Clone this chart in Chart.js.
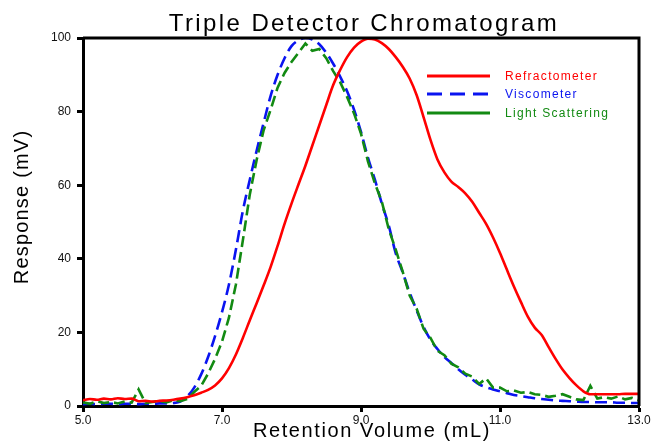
<!DOCTYPE html>
<html>
<head>
<meta charset="utf-8">
<script src="https://cdn.jsdelivr.net/npm/chart.js@4.4.0/dist/chart.umd.min.js"></script>
<style>
  html, body { margin: 0; padding: 0; background: #fff; }
  #wrap { width: 655px; height: 447px; }
</style>
</head>
<body>
<div id="wrap"><canvas id="myChart" width="655" height="447"></canvas></div>
<script>
// Retention volume (mL)
const volume = [
  5.0, 5.1, 5.2, 5.3, 5.4, 5.5, 5.6, 5.7, 5.8, 5.9,
  6.0, 6.1, 6.2, 6.3, 6.4, 6.5, 6.6, 6.7, 6.8, 6.9,
  7.0, 7.1, 7.2, 7.3, 7.4, 7.5, 7.6, 7.7, 7.8, 7.9,
  8.0, 8.1, 8.2, 8.3, 8.4, 8.5, 8.6, 8.7, 8.8, 8.9,
  9.0, 9.1, 9.2, 9.3, 9.4, 9.5, 9.6, 9.7, 9.8, 9.9,
  10.0, 10.1, 10.2, 10.3, 10.4, 10.5, 10.6, 10.7, 10.8, 10.9,
  11.0, 11.1, 11.2, 11.3, 11.4, 11.5, 11.6, 11.7, 11.8, 11.9,
  12.0, 12.1, 12.2, 12.3, 12.4, 12.5, 12.6, 12.7, 12.8, 12.9,
  13.0
];

// Response (mV) per detector
const refractometer = [
  1.6, 1.9, 1.7, 2.0, 1.8, 2.1, 1.9, 2.0, 1.3, 1.4,
  1.2, 1.4, 1.5, 1.7, 2.0, 2.4, 2.9, 3.6, 4.4, 5.6,
  7.5, 10.3, 14.0, 18.5, 23.3, 28.0, 32.8, 37.8, 43.5, 49.5,
  55.0, 60.2, 65.3, 70.8, 76.3, 81.8, 87.2, 91.3, 94.8, 97.4,
  99.0, 99.8, 99.6, 98.6, 97.0, 94.8, 92.2, 89.0, 84.5, 78.5,
  72.3, 67.0, 63.5, 61.0, 59.5, 57.8, 55.5, 52.5, 49.5, 45.8,
  41.6, 37.0, 32.5, 28.3, 24.3, 21.3, 19.3, 16.0, 12.8, 9.9,
  7.6, 5.6, 4.0, 3.2, 3.2, 3.2, 3.2, 3.2, 3.3, 3.3,
  3.3
];

const viscometer = [
  0.5, 0.6, 0.5, 0.6, 0.6, 0.5, 0.6, 0.6, 0.5, 0.6,
  0.6, 0.7, 0.7, 0.8, 1.2, 2.6, 5.0, 8.6, 13.3, 19.0,
  25.5, 33.0, 42.5, 53.0, 61.5, 69.5, 77.0, 84.3, 90.0, 94.5,
  97.8, 99.4, 100, 99.6, 98.3, 96.0, 93.0, 89.5, 85.5, 80.5,
  74.5, 67.5, 61.5, 55.0, 49.0, 41.5, 36.3, 30.8, 26.0, 21.5,
  18.0, 15.5, 13.3, 11.7, 10.0, 8.5, 7.2, 5.9, 5.1, 4.5,
  4.0, 3.5, 3.0, 2.7, 2.4, 2.1, 1.9, 1.7, 1.5, 1.4,
  1.3, 1.2, 1.1, 1.1, 1.0, 1.0, 1.0, 0.9, 0.9, 0.8,
  0.8
];

const lightScattering = [
  1.0, 0.6, 1.3, 0.8, 1.1, 0.7, 1.2, 0.9, 4.5, 0.8,
  1.1, 1.4, 1.0, 1.6, 1.3, 1.9, 3.8, 5.5, 8.8, 12.8,
  17.5, 24.0, 33.0, 45.0, 57.5, 67.0, 75.0, 80.5, 86.5, 90.5,
  93.5, 96.0, 98.5, 96.5, 97.0, 94.5, 91.0, 88.0, 84.0, 79.5,
  74.0, 66.5, 60.5, 55.5, 48.0, 42.5, 36.5, 30.0, 26.5, 21.0,
  18.5, 15.0, 13.8, 11.5, 10.5, 8.8, 8.0, 6.0, 7.5, 5.0,
  5.0, 4.0, 4.2, 3.6, 3.8, 3.2, 3.0, 2.5, 2.8, 3.2,
  2.5, 1.8, 1.6, 5.5, 2.0, 2.4, 2.0, 2.6, 1.8, 2.2,
  1.5
];

const xTicks = [5, 7, 9, 11, 13];
const chartTitle = "Triple Detector Chromatogram";
const xTitle = "Retention Volume (mL)";
const yTitle = "Response (mV)";

const FONT = '"Liberation Sans", Arial, sans-serif';

function pairs(ys) {
  return volume.map((v, i) => ({ x: v, y: ys[i] }));
}

// titles, frame and legend drawn by hand
const decor = {
  id: 'decor',
  afterDraw(chart) {
    const { ctx, chartArea } = chart;
    const { left, right, top, bottom } = chartArea;
    ctx.save();

    // top + right frame
    ctx.strokeStyle = '#000';
    ctx.lineWidth = 3;
    ctx.beginPath();
    ctx.moveTo(left, top);
    ctx.lineTo(right, top);
    ctx.lineTo(right, bottom);
    ctx.stroke();

    ctx.fillStyle = '#000';
    ctx.textAlign = 'center';
    ctx.textBaseline = 'alphabetic';

    ctx.font = '24px ' + FONT;
    ctx.letterSpacing = '2.4px';
    ctx.fillText(chartTitle, (left + right) / 2 + 3, 31);

    ctx.font = '20px ' + FONT;
    ctx.letterSpacing = '1.6px';
    ctx.fillText(xTitle, (left + right) / 2 + 11, 437);

    ctx.save();
    ctx.translate(28, 207);
    ctx.rotate(-Math.PI / 2);
    ctx.letterSpacing = '1.2px';
    ctx.fillText(yTitle, 0, 0);
    ctx.restore();

    // legend
    ctx.font = '12px ' + FONT;
    ctx.letterSpacing = '1.3px';
    ctx.textAlign = 'left';
    ctx.textBaseline = 'middle';
    const rows = [76, 94, 113];
    chart.data.datasets.forEach((ds, i) => {
      const y = rows[i];
      ctx.strokeStyle = ds.borderColor;
      ctx.lineWidth = 3;
      ctx.setLineDash(ds.legendDash || []);
      ctx.beginPath();
      ctx.moveTo(427, y);
      ctx.lineTo(490, y);
      ctx.stroke();
      ctx.setLineDash([]);
      ctx.fillStyle = ds.borderColor;
      ctx.fillText(ds.label, 505, y + 1);
    });

    ctx.restore();
  }
};

const ctx = document.getElementById('myChart').getContext('2d');
const myChart = new Chart(ctx, {
  type: 'line',
  data: {
    datasets: [
      {
        label: 'Refractometer',
        data: pairs(refractometer),
        borderColor: '#ff0000',
        borderWidth: 2.6,
        pointRadius: 0,
        cubicInterpolationMode: 'monotone',
        order: 0
      },
      {
        label: 'Viscometer',
        data: pairs(viscometer),
        borderColor: '#0a14f0',
        borderWidth: 2.6,
        borderDash: [12, 6],
        legendDash: [15, 8],
        pointRadius: 0,
        cubicInterpolationMode: 'monotone',
        order: 2
      },
      {
        label: 'Light Scattering',
        data: pairs(lightScattering),
        borderColor: '#128a12',
        borderWidth: 2.6,
        borderDash: [11, 5],
        pointRadius: 0,
        tension: 0,
        order: 1
      }
    ]
  },
  options: {
    responsive: false,
    animation: false,
    devicePixelRatio: 1,
    layout: { padding: { top: 38, right: 16, left: 0, bottom: 0 } },
    plugins: {
      legend: { display: false },
      title: { display: false },
      tooltip: { enabled: false }
    },
    scales: {
      x: {
        type: 'linear',
        min: 5,
        max: 13,
        afterBuildTicks: s => { s.ticks = xTicks.map(v => ({ value: v })); },
        afterFit: s => { s.height = 41; },
        ticks: {
          callback: v => v.toFixed(1),
          font: { family: FONT, size: 12 },
          color: '#111',
          padding: 1,
          maxRotation: 0
        },
        grid: { drawOnChartArea: false, drawTicks: true, tickLength: 6, tickWidth: 3, tickColor: '#000' },
        border: { color: '#000', width: 3 }
      },
      y: {
        min: 0,
        max: 100,
        afterFit: s => { s.width = 83; },
        ticks: {
          stepSize: 20,
          font: { family: FONT, size: 12 },
          color: '#111',
          padding: 6
        },
        grid: { drawOnChartArea: false, drawTicks: true, tickLength: 6, tickWidth: 3, tickColor: '#000' },
        border: { color: '#000', width: 3 }
      }
    }
  },
  plugins: [decor]
});
</script>
</body>
</html>
